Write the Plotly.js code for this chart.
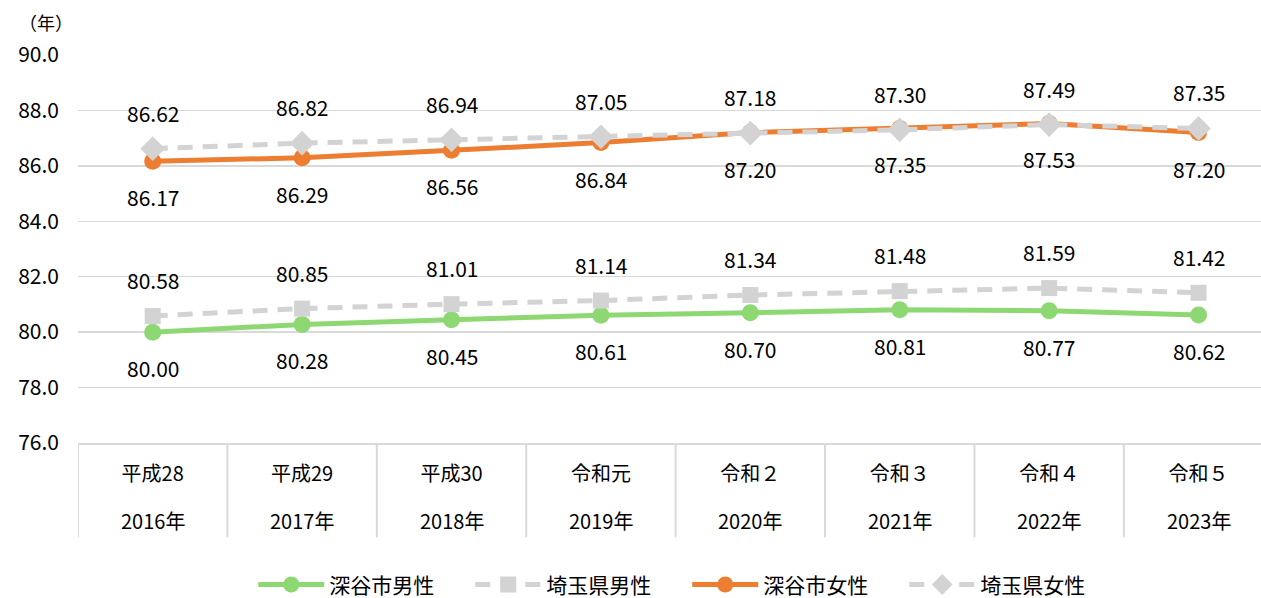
<!DOCTYPE html>
<html>
<head>
<meta charset="utf-8">
<script src="https://cdn.plot.ly/plotly-3.0.1.min.js"></script>
<style>html,body{margin:0;padding:0;background:#fff;}#chart{width:1261px;height:598px;}</style>
</head>
<body>
<div id="chart"></div>
<script>
// ---- data ----
const eraLabels = ["平成28", "平成29", "平成30", "令和元", "令和２", "令和３", "令和４", "令和５"];
const yearLabels = ["2016年", "2017年", "2018年", "2019年", "2020年", "2021年", "2022年", "2023年"];
const fukayaMale = [80.00, 80.28, 80.45, 80.61, 80.70, 80.81, 80.77, 80.62];
const saitamaMale = [80.58, 80.85, 81.01, 81.14, 81.34, 81.48, 81.59, 81.42];
const fukayaFemale = [86.17, 86.29, 86.56, 86.84, 87.20, 87.35, 87.53, 87.20];
const saitamaFemale = [86.62, 86.82, 86.94, 87.05, 87.18, 87.30, 87.49, 87.35];
const seriesNames = ["深谷市男性", "埼玉県男性", "深谷市女性", "埼玉県女性"];
const yUnit = "（年）";

const FONT = "'Noto Sans CJK JP', 'Noto Sans', sans-serif";
const GREEN = "#8ED873", ORANGE = "#ED7D31", GRAY = "#D3D3D3";

const traces = [
  {name: seriesNames[0], x: eraLabels, y: fukayaMale, mode: "lines+markers",
   line: {color: GREEN, width: 5}, marker: {symbol: "circle", size: 17, color: GREEN}},
  {name: seriesNames[1], x: eraLabels, y: saitamaMale, mode: "lines+markers",
   line: {color: GRAY, width: 5, dash: "15px,10px"}, marker: {symbol: "square", size: 16, color: GRAY}},
  {name: seriesNames[2], x: eraLabels, y: fukayaFemale, mode: "lines+markers",
   line: {color: ORANGE, width: 5}, marker: {symbol: "circle", size: 17, color: ORANGE}},
  {name: seriesNames[3], x: eraLabels, y: saitamaFemale, mode: "lines+markers",
   line: {color: GRAY, width: 5, dash: "15px,10px"}, marker: {symbol: "diamond", size: 19, color: GRAY}}
];

const annotations = [];
function addLabels(vals, shift) {
  vals.forEach((v, i) => annotations.push({
    x: eraLabels[i], y: v, xref: "x", yref: "y", text: v.toFixed(2), showarrow: false,
    yshift: shift, font: {family: FONT, size: 21, color: "#000"}
  }));
}
addLabels(saitamaMale, 36);
addLabels(saitamaFemale, 36);
addLabels(fukayaMale, -36);
addLabels(fukayaFemale, -36);
yearLabels.forEach((t, i) => annotations.push({
  x: eraLabels[i], xref: "x", y: -0.2, yref: "paper", yanchor: "middle", text: t, showarrow: false,
  font: {family: FONT, size: 20, color: "#000"}
}));
annotations.push({x: -0.027, xref: "paper", xanchor: "center", y: 1.085, yref: "paper", yanchor: "middle",
  text: yUnit, showarrow: false, font: {family: FONT, size: 18, color: "#000"}});

const shapes = [];
for (let i = 0; i <= eraLabels.length; i++) {
  shapes.push({type: "line", xref: "x", yref: "paper", x0: i - 0.5, x1: i - 0.5, y0: 0, y1: -0.243,
    line: {color: "#D9D9D9", width: 2}});
}

const layout = {
  width: 1261, height: 598,
  margin: {l: 78, r: 0, t: 55, b: 155},
  paper_bgcolor: "#fff", plot_bgcolor: "#fff",
  showlegend: true,
  legend: {orientation: "h", xref: "container", yref: "container", x: 0.545, xanchor: "center",
    y: 0.022, yanchor: "middle", font: {family: FONT, size: 21, color: "#000"},
    itemwidth: 66, entrywidth: 136, entrywidthmode: "pixels"},
  xaxis: {type: "category", range: [-0.5, 7.418], showgrid: false, zeroline: false,
    showline: true, linecolor: "#D9D9D9", linewidth: 2, ticks: "",
    tickfont: {family: FONT, size: 20, color: "#000"}, ticklabelstandoff: 12, fixedrange: true},
  yaxis: {range: [76, 90], dtick: 2, tick0: 76, tickformat: ".1f", showgrid: true,
    gridcolor: "#D9D9D9", gridwidth: 1.5, zeroline: false, showline: false, ticks: "",
    tickfont: {family: FONT, size: 21, color: "#000"}, ticklabelstandoff: 18, fixedrange: true},
  annotations: annotations,
  shapes: shapes
};

Plotly.newPlot("chart", traces, layout, {displayModeBar: false, staticPlot: true});
</script>
</body>
</html>
